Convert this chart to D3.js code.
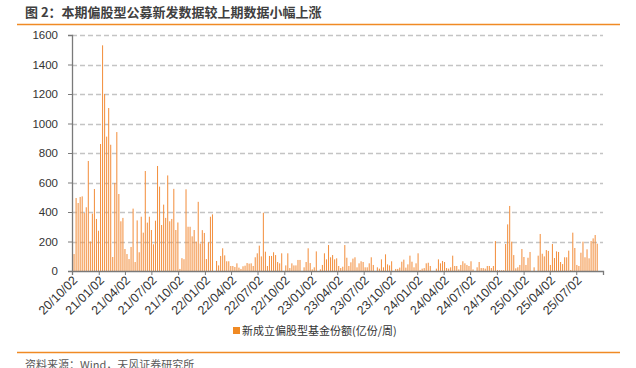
<!DOCTYPE html>
<html>
<head>
<meta charset="utf-8">
<script src="https://cdn.jsdelivr.net/npm/d3@7"></script>
<style>
  body { margin: 0; background: #fff; }
  svg { display: block; }
</style>
</head>
<body>
<div id="chart"></div>
<script>
// Chart data (weekly new equity fund shares, 100m units / week)
var startFriday = new Date(2020, 9, 9);
var endFriday = new Date(2025, 8, 13);

var weeklyShares = [
  115, 495, 461, 502, 506, 393, 432, 746, 200, 389,
  556, 353, 273, 861, 1530, 1200, 911, 1105, 856, 95,
  597, 942, 522, 337, 360, 149, 115, 81, 163, 423,
  61, 343, 127, 368, 260, 678, 328, 368, 278, 181,
  341, 712, 572, 312, 450, 360, 648, 337, 353, 557,
  278, 329, 14, 87, 80, 554, 300, 300, 235, 278,
  199, 469, 186, 277, 258, 81, 195, 368, 384,
  0, 68, 38, 102, 154, 106, 66, 66, 34, 34,
  27, 52, 23, 14, 32, 36, 54, 50, 52, 34,
  93, 120, 172, 99, 395,
  131, 34, 102, 102, 127, 108, 61, 52, 120, 0,
  38, 120, 20, 52, 38, 38, 75, 75, 0, 25,
  61, 154, 54, 11, 25, 133, 0, 11, 41, 120,
  79, 176, 93, 108, 79, 86, 34, 20, 29, 176,
  90, 34, 59, 84, 93, 25, 52, 66, 61, 25,
  25, 52, 93, 41, 0, 25, 16, 79, 25,
  113, 45, 38, 66, 0, 14, 14, 23, 63, 77,
  23, 45, 104, 63, 25, 52, 120, 7, 16, 20,
  52, 56, 34, 0, 0, 16, 79, 52, 68, 61,
  20, 16, 25, 104, 34, 34, 11, 41, 66, 52,
  41, 34, 66, 11, 0, 25, 61, 20, 20, 16,
  34, 34, 20, 34, 203,
  7, 5, 5, 5, 183, 316, 441, 199, 108, 18,
  25, 41, 149, 95, 41, 90, 129, 0, 25, 0,
  104, 251, 117, 99, 142, 136, 41, 183, 88, 133,
  129, 61, 47, 93, 93, 138, 7, 260, 156, 41,
  34, 124, 199, 93, 147, 86, 203, 221, 244, 185
];

var tickLabels = [
  "20/10/02", "21/01/02", "21/04/02", "21/07/02", "21/10/02",
  "22/01/02", "22/04/02", "22/07/02", "22/10/02", "23/01/02",
  "23/04/02", "23/07/02", "23/10/02", "24/01/02", "24/04/02",
  "24/07/02", "24/10/02", "25/01/02", "25/04/02", "25/07/02"
];

var yTicks = [0, 200, 400, 600, 800, 1000, 1200, 1400, 1600];

var titleText = "图 2：本期偏股型公募新发数据较上期数据小幅上涨";
var legendText = "新成立偏股型基金份额(亿份/周)";
var sourceText = "资料来源：Wind，天风证券研究所";

// Set up the chart
var svgWidth = 636;
var svgHeight = 368;

var margin = {
  top: 35,
  right: 33,
  bottom: 97,
  left: 72
};

var width = svgWidth - margin.left - margin.right;
var height = svgHeight - margin.top - margin.bottom;

var orange = "#F08A24";
var barColor = "#F39243";
var cjkFont = "'Noto Sans CJK SC', 'Noto Sans', sans-serif";
var numFont = "'Liberation Sans', Arial, sans-serif";

var parseLabel = d3.timeParse("%y/%m/%d");

var weekDates = d3.timeFriday.range(startFriday, endFriday);
var chartData = weeklyShares.map(function(v, i) {
  return { date: weekDates[i], value: v };
});

var svg = d3.select("#chart")
  .append("svg")
  .attr("width", svgWidth)
  .attr("height", svgHeight);

// Title + top rule
svg.append("text")
  .attr("x", 25)
  .attr("y", 17)
  .attr("font-family", cjkFont)
  .attr("font-size", 13)
  .attr("font-weight", "bold")
  .attr("fill", "#404040")
  .attr("xml:space", "preserve")
  .style("white-space", "pre")
  .text(titleText);

svg.append("line")
  .attr("x1", 17).attr("x2", 620)
  .attr("y1", 24.5).attr("y2", 24.5)
  .attr("stroke", orange)
  .attr("stroke-width", 1.5);

var chartGroup = svg.append("g")
  .attr("transform", `translate(${margin.left}, ${margin.top})`);

// Scales
var xTimeScale = d3.scaleTime()
  .domain([parseLabel("20/10/02"), parseLabel("25/10/02")])
  .range([0, width]);

var yScale = d3.scaleLinear()
  .domain([0, 1600])
  .range([height, 0]);

// Dashed gridlines
chartGroup.append("g")
  .selectAll("line")
  .data(yTicks.filter(d => d > 0))
  .enter()
  .append("line")
  .attr("x1", 0)
  .attr("x2", width)
  .attr("y1", d => Math.round(yScale(d)) + 0.5)
  .attr("y2", d => Math.round(yScale(d)) + 0.5)
  .attr("stroke", "#C4C4C4")
  .attr("stroke-width", 1.3)
  .attr("stroke-dasharray", "5,3");

// Bars
chartGroup.selectAll("rect.bar")
  .data(chartData)
  .enter()
  .append("rect")
  .attr("class", "bar")
  .attr("x", d => xTimeScale(d.date) - 0.5)
  .attr("width", 1.05)
  .attr("y", d => yScale(d.value))
  .attr("height", d => height - yScale(d.value))
  .attr("fill", barColor);

// Y axis
var leftAxis = d3.axisLeft(yScale)
  .tickValues(yTicks)
  .tickFormat(d3.format("d"))
  .tickSize(4)
  .tickPadding(10);

var yAxis = chartGroup.append("g")
  .call(leftAxis);

yAxis.select(".domain").attr("stroke", "#7A7A7A").attr("stroke-width", 1.3);
yAxis.selectAll(".tick line").attr("stroke", "#7A7A7A");
yAxis.selectAll("text")
  .attr("font-family", numFont)
  .attr("font-size", 11.5)
  .attr("fill", "#333");

// X axis
var bottomAxis = d3.axisBottom(xTimeScale)
  .tickValues(tickLabels.map(parseLabel))
  .tickSize(4)
  .tickFormat("");

var xAxis = chartGroup.append("g")
  .attr("transform", `translate(0, ${height})`)
  .call(bottomAxis);

xAxis.select(".domain").attr("stroke", "#7A7A7A").attr("stroke-width", 1.3);
xAxis.selectAll(".tick line").attr("stroke", "#7A7A7A");

// Rotated date labels
chartGroup.append("g")
  .selectAll("text")
  .data(tickLabels)
  .enter()
  .append("text")
  .attr("transform", d => `translate(${xTimeScale(parseLabel(d)) + 3}, ${height + 7}) rotate(-45)`)
  .attr("text-anchor", "end")
  .attr("dy", "0.35em")
  .attr("font-family", numFont)
  .attr("font-size", 12.5)
  .attr("fill", "#333")
  .text(d => d);

// Legend
svg.append("rect")
  .attr("x", 233)
  .attr("y", 327)
  .attr("width", 7)
  .attr("height", 7)
  .attr("fill", orange);

svg.append("text")
  .attr("x", 242)
  .attr("y", 335)
  .attr("font-family", cjkFont)
  .attr("font-size", 11)
  .attr("fill", "#333")
  .text(legendText);

// Bottom rule + source (cut by the bottom edge, as in the reference)
svg.append("line")
  .attr("x1", 17).attr("x2", 620)
  .attr("y1", 352.5).attr("y2", 352.5)
  .attr("stroke", orange)
  .attr("stroke-width", 1.5);

svg.append("text")
  .attr("x", 25)
  .attr("y", 369)
  .attr("font-family", cjkFont)
  .attr("font-size", 11)
  .attr("fill", "#595959")
  .text(sourceText);
</script>
</body>
</html>
